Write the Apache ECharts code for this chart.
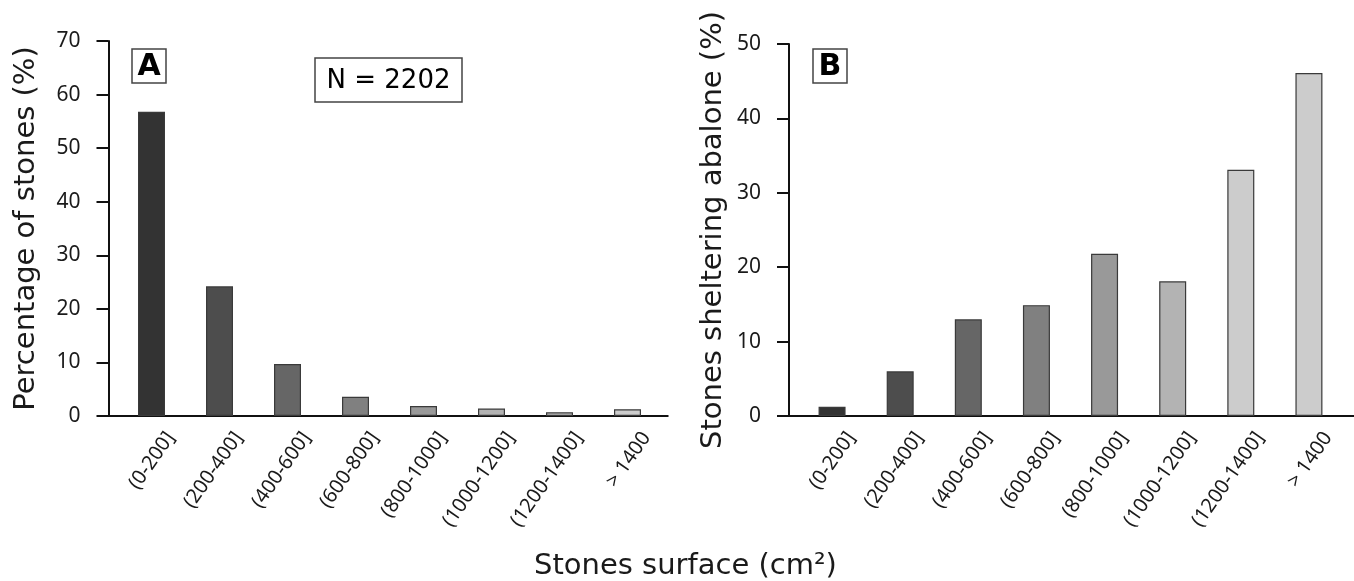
<!DOCTYPE html>
<html>
<head>
<meta charset="utf-8">
<script src="https://cdn.jsdelivr.net/npm/echarts@6/dist/echarts.min.js"></script>
<style>
html, body { margin: 0; padding: 0; background: #fff; }
#main { width: 1354px; height: 581px; }
</style>
</head>
<body>
<div id="main"></div>
<script>
var myChart = echarts.init(document.getElementById('main'));

const categories = ['(0-200]', '(200-400]', '(400-600]', '(600-800]', '(800-1000]', '(1000-1200]', '(1200-1400]', '> 1400'];
const stonesPct = [56.8, 24.2, 9.7, 3.6, 1.85, 1.4, 0.7, 1.25];          // panel A
const shelteringPct = [1.25, 6.0, 13.0, 14.9, 21.8, 18.1, 33.1, 46.1];   // panel B
const colorsA = ['#333333', '#4d4d4d', '#666666', '#808080', '#999999', '#b3b3b3', '#c3c3c3', '#cccccc'];
const colorsB = ['#333333', '#4d4d4d', '#666666', '#808080', '#999999', '#b3b3b3', '#cccccc', '#cccccc'];

const ink = '#1a1a1a';

function yAxisOf(grid, max, name, gap) {
    return {
        gridIndex: grid,
        type: 'value',
        min: 0,
        max: max,
        interval: 10,
        offset: 9,
        name: name,
        nameLocation: 'middle',
        nameGap: gap,
        nameTextStyle: { fontFamily: 'DejaVu Sans', fontSize: 29, color: ink },
        axisLine: { show: true, lineStyle: { color: '#111', width: 2 } },
        axisTick: { show: true, length: 12, lineStyle: { color: '#111', width: 2 } },
        axisLabel: { margin: 28, fontFamily: 'Noto Sans', fontSize: 21, color: ink },
        splitLine: { show: false }
    }
}

function xAxisOf(grid) {
    return {
        gridIndex: grid,
        type: 'category',
        data: categories,
        axisLine: { show: true, lineStyle: { color: '#111', width: 2 } },
        axisTick: { show: false },
        axisLabel: { show: false }
    }
}

// category names hang under each bar, rotated (offset is in the rotated frame)
function barsOf(idx, values, colors) {
    return {
        type: 'bar',
        xAxisIndex: idx,
        yAxisIndex: idx,
        barWidth: 27,
        data: values.map((v, i) => ({ value: v, itemStyle: { color: colors[i] } })),
        itemStyle: { borderColor: '#3a3a3a', borderWidth: 1.2 },
        label: {
            show: true,
            position: 'bottom',
            distance: 0,
            rotate: 55,
            align: 'right',
            verticalAlign: 'middle',
            offset: [-4, 26],
            formatter: '{b}',
            fontFamily: 'Noto Sans',
            fontSize: 20,
            color: ink
        },
        emphasis: { disabled: true },
        silent: true
    }
}

function boxLabel(x, y, w, h, text, font) {
    return {
        type: 'group',
        children: [
            { type: 'rect', shape: { x: x, y: y, width: w, height: h }, style: { fill: '#fff', stroke: '#444', lineWidth: 1.5 } },
            { type: 'text', x: x + w / 2, y: y + h / 2 + 1, style: { text: text, font: font, fill: '#000', align: 'center', verticalAlign: 'middle', textAlign: 'center', textVerticalAlign: 'middle' } }
        ]
    }
}

function axisBit(x1, x2) {
    return { type: 'line', shape: { x1: x1, y1: 416, x2: x2, y2: 416 }, style: { stroke: '#111', lineWidth: 2 } }
}

option = {
    animation: false,
    title: {
        text: 'Stones surface (cm²)',
        left: 529,
        top: 547,
        textStyle: { fontFamily: 'DejaVu Sans', fontSize: 29, fontWeight: 'normal', color: ink }
    },
    grid: [
        { left: 117.5, top: 41, width: 544, height: 375 },
        { left: 798, top: 44, width: 545, height: 372 }
    ],
    xAxis: [xAxisOf(0), xAxisOf(1)],
    yAxis: [
        yAxisOf(0, 70, 'Percentage of stones (%)', 68),
        yAxisOf(1, 50, 'Stones sheltering abalone (%)', 61)
    ],
    series: [barsOf(0, stonesPct, colorsA), barsOf(1, shelteringPct, colorsB)],
    graphic: [
        axisBit(107.5, 118), axisBit(661, 668.5),
        axisBit(777.5, 798.5), axisBit(1342.5, 1354),
        boxLabel(132, 49, 34, 34, 'A', 'bold 30px "DejaVu Sans"'),
        boxLabel(315, 58, 147, 44, 'N = 2202', '26px "DejaVu Sans"'),
        boxLabel(813, 49, 34, 34, 'B', 'bold 30px "DejaVu Sans"')
    ]
};

myChart.setOption(option);
</script>
</body>
</html>
